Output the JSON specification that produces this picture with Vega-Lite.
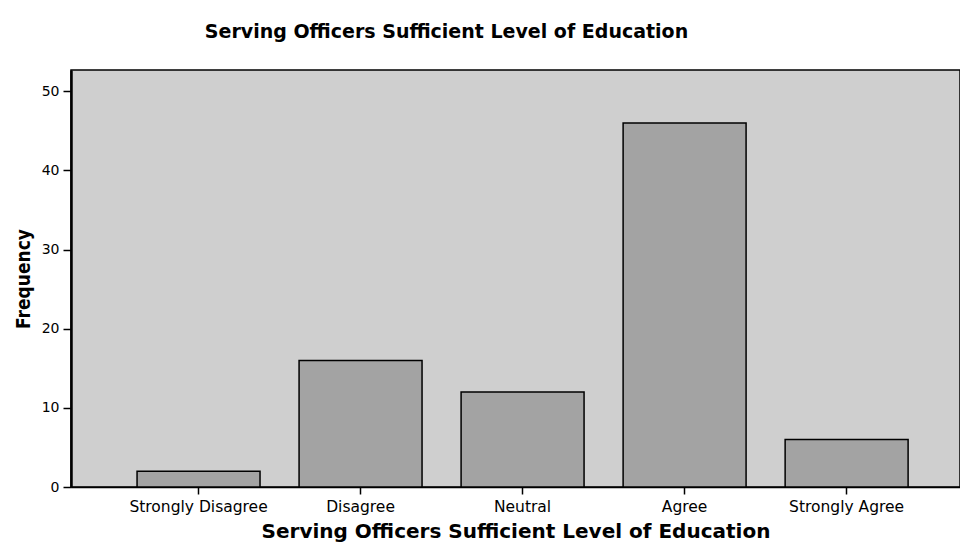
{
  "$schema": "https://vega.github.io/schema/vega-lite/v6.json",
  "autosize": {"type": "none"},
  "width": 889,
  "height": 417,
  "padding": {"left": 71, "top": 70, "right": 0, "bottom": 57},
  "background": "#ffffff",
  "title": {
    "text": "Serving Officers Sufficient Level of Education",
    "font": "DejaVu Sans",
    "fontSize": 19,
    "fontWeight": "bold",
    "color": "#000000",
    "anchor": "middle",
    "dx": -69,
    "offset": 13,
    "baseline": "alphabetic"
  },
  "config": {
    "view": {"fill": "#cfcfcf", "stroke": "#000000", "strokeWidth": 1.5},
    "axis": {"grid": false}
  },
  "data": {
    "values": [
      {"category": "Strongly Disagree", "frequency": 2},
      {"category": "Disagree", "frequency": 16},
      {"category": "Neutral", "frequency": 12},
      {"category": "Agree", "frequency": 46},
      {"category": "Strongly Agree", "frequency": 6}
    ]
  },
  "mark": {"type": "bar", "fill": "#a3a3a3", "stroke": "#000000", "strokeWidth": 1.5},
  "encoding": {
    "x": {
      "field": "category",
      "type": "nominal",
      "sort": null,
      "scale": {"paddingInner": 0.241, "paddingOuter": 0.364, "align": 0.56},
      "axis": {
        "title": "Serving Officers Sufficient Level of Education",
        "titleFont": "DejaVu Sans",
        "titleFontSize": 20,
        "titleFontWeight": "bold",
        "titleColor": "#000000",
        "titlePadding": 7,
        "labelAngle": 0,
        "labelFont": "DejaVu Sans",
        "labelFontSize": 15.5,
        "labelColor": "#000000",
        "labelPadding": 5,
        "tickColor": "#000000",
        "tickSize": 7,
        "tickWidth": 1.5,
        "domainColor": "#000000",
        "domainWidth": 1.5
      }
    },
    "y": {
      "field": "frequency",
      "type": "quantitative",
      "scale": {"domain": [0, 52.7], "nice": false, "zero": true},
      "axis": {
        "title": "Frequency",
        "titleFont": "DejaVu Sans Condensed, Liberation Sans, sans-serif",
        "titleFontSize": 19,
        "titleFontWeight": "bold",
        "titleColor": "#000000",
        "titlePadding": 8,
        "values": [0, 10, 20, 30, 40, 50],
        "labelFont": "DejaVu Sans",
        "labelFontSize": 14,
        "labelColor": "#000000",
        "labelPadding": 4,
        "tickColor": "#000000",
        "tickSize": 8,
        "tickWidth": 1.5,
        "domainColor": "#000000",
        "domainWidth": 2.5
      }
    }
  }
}
